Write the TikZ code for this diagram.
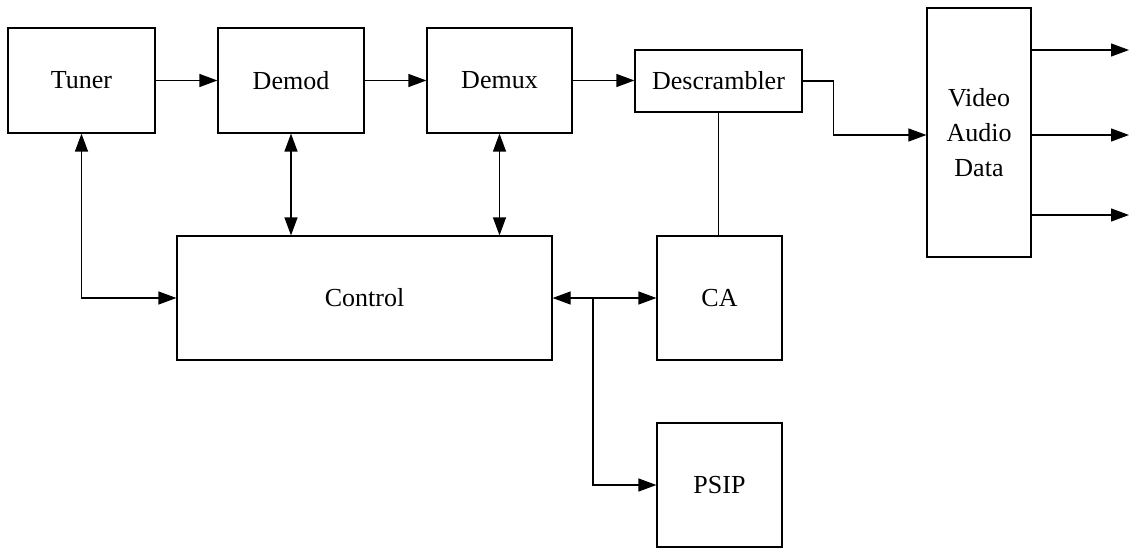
\documentclass[tikz,border=0pt]{standalone}
\usepackage{fontspec}
\setmainfont{Liberation Serif}
\usetikzlibrary{arrows.meta}

\tikzset{
  block/.style={draw, line width=1.2pt, rectangle, inner sep=0pt, align=center,
                font=\fontsize{26}{35}\selectfont},
  link/.style={line width=1.2pt},
  arr/.style={link, -{Triangle[length=18pt,width=13pt]}},
  biarr/.style={link, {Triangle[length=18pt,width=13pt]}-{Triangle[length=18pt,width=13pt]}}
}

\begin{document}
\begin{tikzpicture}[x=1pt, y=-1pt]
  \useasboundingbox (0,0) rectangle (1129,548);

  % receiver chain
  \node[block, minimum width=147pt, minimum height=105pt] (tuner) at (81.5,80.5) {Tuner};
  \node[block, minimum width=146pt, minimum height=105pt] (demod) at (291,80.5) {Demod};
  \node[block, minimum width=145pt, minimum height=105pt] (demux) at (499.5,80.5) {Demux};
  \node[block, minimum width=167pt, minimum height=62pt] (descr) at (718.5,81) {Descrambler};
  \node[block, minimum width=104pt, minimum height=249pt, text depth=-5pt] (video) at (979,132.5) {Video\\Audio\\Data};

  % control section
  \node[block, minimum width=375pt, minimum height=124pt] (control) at (364.5,298) {Control};
  \node[block, minimum width=125pt, minimum height=124pt] (ca) at (719.5,298) {CA};
  \node[block, minimum width=125pt, minimum height=124pt] (psip) at (719.5,485) {PSIP};

  % free ends
  \coordinate (br) at (593,298);
  \coordinate (out1) at (1129,50);
  \coordinate (out2) at (1129,135);
  \coordinate (out3) at (1129,215);

  % data path
  \draw[arr] (tuner) -- (demod);
  \draw[arr] (demod) -- (demux);
  \draw[arr] (demux.east) -- (demux.east -| descr.west);
  \draw[arr] (descr.east) -- ++(31,0) |- (video.west |- out2);

  % control links
  \draw[biarr] (tuner.south) |- (control.west);
  \draw[biarr] (demod.south) -- (demod.south |- control.north);
  \draw[biarr] (demux.south) -- (demux.south |- control.north);
  \draw[link] (descr.south) -- (descr.south |- ca.north);
  \draw[biarr] (control.east) -- (ca.west);
  \draw[arr] (br) |- (psip.west);

  % outputs
  \draw[arr] (video.east |- out1) -- (out1);
  \draw[arr] (video.east |- out2) -- (out2);
  \draw[arr] (video.east |- out3) -- (out3);
\end{tikzpicture}
\end{document}
